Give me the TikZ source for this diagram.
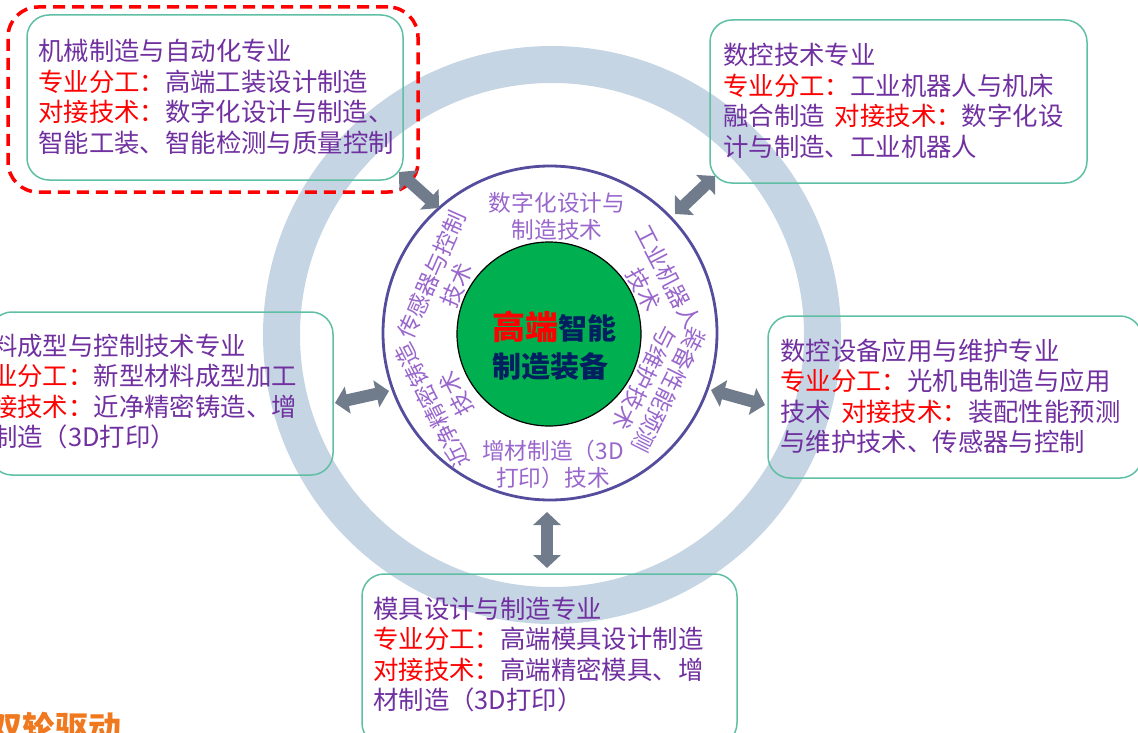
\documentclass[tikz,border=0pt]{standalone}
\usepackage{fontspec}
\setmainfont{Noto Sans CJK SC}
\usetikzlibrary{arrows.meta}
\definecolor{txtpurple}{HTML}{7030A0}
\definecolor{lblpurple}{HTML}{9966CC}
\definecolor{boxteal}{HTML}{5FBFA5}
\definecolor{ringblue}{HTML}{C5D5E3}
\definecolor{circpurple}{HTML}{544C9C}
\definecolor{centergreen}{HTML}{00B050}
\definecolor{navyblue}{HTML}{002060}
\definecolor{arrowgray}{HTML}{707C8C}
\definecolor{sloganorange}{HTML}{F0781E}
\definecolor{hotred}{HTML}{FF0000}
\tikzset{
  majorbox/.style={draw=boxteal, line width=1.5pt, rounded corners=22pt, inner sep=0pt, outer sep=0pt},
  focusbox/.style={draw=hotred, line width=3.5pt, dash pattern=on 12pt off 7pt, rounded corners=30pt, inner sep=0pt, outer sep=0pt},
  boxtext/.style={anchor=base west, inner sep=0pt, text width=430pt, align=left, text=txtpurple, font=\fontsize{25.4}{30.5}\selectfont},
  ringlbl/.style={text=lblpurple, font=\fontsize{22.7}{27}\selectfont, align=center, inner sep=0pt},
  dblarrow/.style={line width=12pt, draw=arrowgray, {Triangle[length=13pt,width=27pt]}-{Triangle[length=13pt,width=27pt]}},
}
\newcommand{\rd}[1]{\textcolor{hotred}{#1}}
\begin{document}
\begin{tikzpicture}[x=1pt,y=-1pt]
\useasboundingbox (0,0) rectangle (1138,733);
\clip (0,0) rectangle (1138,733);

% big light ring
\draw[ringblue, line width=37pt] (552,335) circle[radius=270.5pt];

% boxes
\node[majorbox, minimum width=376pt, minimum height=165pt] (tlbox) at (215,97.5) {};
\node[focusbox, minimum width=410pt, minimum height=185pt] (focus) at (213,99.5) {};
\node[majorbox, minimum width=377pt, minimum height=163pt] (trbox) at (898.5,101.5) {};
\node[majorbox, minimum width=343pt, minimum height=163pt] (lbox) at (161.5,393.5) {};
\node[majorbox, minimum width=374pt, minimum height=162pt] (rbox) at (955,397) {};
\node[majorbox, minimum width=375pt, minimum height=171pt] (bbox) at (549.5,659.5) {};

% central circles
\node[draw=circpurple, line width=2.8pt, circle, minimum size=334pt, inner sep=0pt] (outerc) at (550,333) {};
\node[draw=black, fill=centergreen, line width=1.2pt, circle, minimum size=184pt, inner sep=0pt] (core) at (549,334) {};

% arrows
\coordinate (a1s) at (399,172); \coordinate (a1e) at (439,208);
\coordinate (a2s) at (715,176); \coordinate (a2e) at (675,214);
\coordinate (a3s) at (335,403); \coordinate (a3e) at (389,391);
\coordinate (a4s) at (711,390); \coordinate (a4e) at (765,405);
\coordinate (a5s) at (547,512); \coordinate (a5e) at (547,568);
\draw[dblarrow] (a1s) -- (a1e);
\draw[dblarrow] (a2s) -- (a2e);
\draw[dblarrow] (a3s) -- (a3e);
\draw[dblarrow] (a4s) -- (a4e);
\draw[dblarrow] (a5s) -- (a5e);

% box texts
\node[boxtext] (tltext) at (38,60.7) {机械制造与自动化专业\\\rd{专业分工：}高端工装设计制造\\\rd{对接技术：}数字化设计与制造、\\智能工装、智能检测与质量控制};
\node[boxtext] (trtext) at (723,65) {数控技术专业\\\rd{专业分工：}工业机器人与机床\\融合制造\hspace{0.4em}\rd{对接技术：}数字化设\\计与制造、工业机器人};
\node[boxtext] (ltext) at (-8,355) {料成型与控制技术专业\\\rd{业分工：}新型材料成型加工\\\rd{接技术：}近净精密铸造、增\\制造（3D打印）};
\node[boxtext] (rtext) at (780,360) {数控设备应用与维护专业\\\rd{专业分工：}光机电制造与应用\\技术\hspace{0.4em}\rd{对接技术：}装配性能预测\\与维护技术、传感器与控制};
\node[boxtext] (btext) at (373,618) {模具设计与制造专业\\\rd{专业分工：}高端模具设计制造\\\rd{对接技术：}高端精密模具、增\\材制造（3D打印）};

% ring labels
\node[ringlbl] (lbltop) at (557,216) {数字化设计与\\制造技术};
\node[ringlbl, rotate=-62.6] (lblrobot) at (656,283) {工业机器人\\技术};
\node[ringlbl, rotate=-116.6] (lblassy) at (657,384) {装备性能预测\\与维护技术};
\node[ringlbl] (lblbottom) at (553,464) {增材制造（3D\\打印）技术};
\node[ringlbl, rotate=116.8] (lblcast) at (444,400) {近净精密铸造\\技术};
\node[ringlbl, rotate=66.2] (lblsensor) at (444,280) {传感器与控制\\技术};

% centre title
\node[anchor=base west, inner sep=0pt, font=\bfseries] (ctr1) at (492,339) {\fontsize{33}{36}\selectfont\textcolor{hotred}{高端}\fontsize{29}{36}\selectfont\textcolor{navyblue}{智能}};
\node[anchor=base west, inner sep=0pt, font=\bfseries\fontsize{29}{36}\selectfont, text=navyblue] (ctr2) at (492,377) {制造装备};

% slogan cut at the bottom edge
\node[anchor=base west, inner sep=0pt, text=sloganorange, font=\bfseries\fontsize{33}{36}\selectfont] (slogan) at (-11,740) {双轮驱动};
\end{tikzpicture}
\end{document}
